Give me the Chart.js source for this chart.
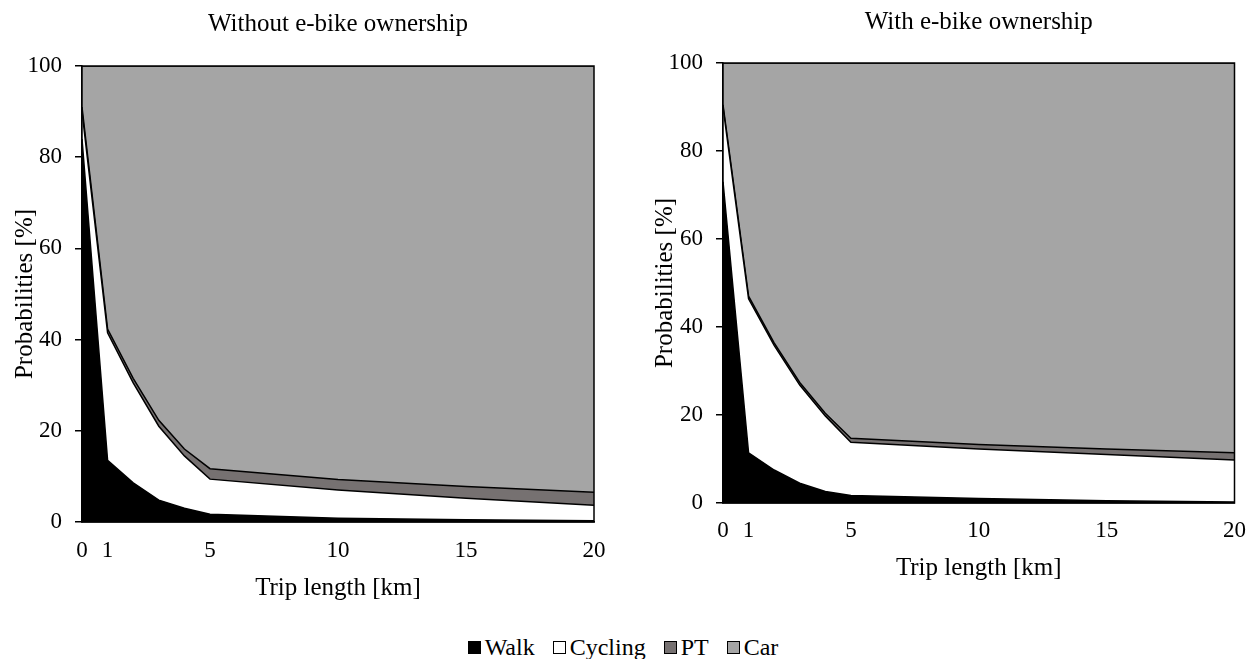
<!DOCTYPE html>
<html>
<head>
<meta charset="utf-8">
<script src="https://cdn.jsdelivr.net/npm/chart.js@4.4.1/dist/chart.umd.min.js"></script>
<style>
  body { margin: 0; background: #fff; width: 1260px; height: 659px; position: relative; overflow: hidden; font-family: "Liberation Serif", "Times New Roman", serif; }
  .box { position: absolute; top: 0; width: 630px; height: 610px; }
  #legend { position: absolute; top: 633px; left: 0; width: 1246px; display: flex; justify-content: center; gap: 18px; font-size: 24px; color: #000; line-height: 28px; }
  #legend span.item { display: flex; align-items: center; }
  #legend i { display: inline-block; width: 11px; height: 11px; border: 1px solid #000; margin-right: 4px; }
</style>
</head>
<body>
<div class="box" style="left:0"><canvas id="left" width="630" height="610"></canvas></div>
<div class="box" style="left:630px"><canvas id="right" width="630" height="610"></canvas></div>
<div id="legend"></div>

<script>
// trip length (km) at which the shares are given
const tripKm = [0, 1, 2, 3, 4, 5, 10, 15, 20];
const xTicks = [0, 1, 5, 10, 15, 20];
const yTicks = [0, 20, 40, 60, 80, 100];

const modes = ['Walk', 'Cycling', 'PT', 'Car'];
const modeColors = ['#000000', '#ffffff', '#767171', '#a5a5a5'];

// mode shares [%] without e-bike ownership
const walkNo    = [84, 13.5, 8.6, 4.8, 3.0, 1.7, 0.8, 0.5, 0.3];
const cyclingNo = [6, 28.0, 21.9, 16.2, 11.5, 7.7, 6.2, 4.7, 3.4];
const ptNo      = [1, 0.8, 1.0, 1.3, 1.5, 2.3, 2.3, 2.6, 2.8];
const carNo     = [9, 57.7, 68.5, 77.7, 84.0, 88.3, 90.7, 92.2, 93.5];

// mode shares [%] with e-bike ownership
const walkE    = [73, 11.4, 7.5, 4.5, 2.6, 1.7, 1.0, 0.5, 0.2];
const cyclingE = [17, 35.0, 28.3, 22.3, 17.2, 12.1, 11.3, 10.5, 9.6];
const ptE      = [0.5, 0.6, 0.6, 0.6, 0.6, 0.9, 1.0, 1.3, 1.6];
const carE     = [9.5, 53.0, 63.6, 72.6, 79.6, 85.3, 86.7, 87.7, 88.6];

const FONT = '"Liberation Serif", "Times New Roman", serif';

// frame round the plot area (Excel draws the area outline)
const framePlugin = {
  id: 'frame',
  afterDatasetsDraw(chart) {
    const a = chart.chartArea, ctx = chart.ctx;
    ctx.save();
    ctx.strokeStyle = '#000';
    ctx.lineWidth = 1.5;
    ctx.strokeRect(a.left, a.top, a.right - a.left, a.bottom - a.top);
    ctx.restore();
  }
};

function makeChart(id, title, series, g) {
  const ctx = document.getElementById(id).getContext('2d');
  return new Chart(ctx, {
    type: 'line',
    data: {
      datasets: series.map((vals, i) => ({
        label: modes[i],
        data: tripKm.map((x, j) => ({ x: x, y: vals[j] })),
        backgroundColor: modeColors[i],
        borderColor: '#000',
        borderWidth: 1.5,
        pointRadius: 0,
        tension: 0,
        fill: i === 0 ? 'origin' : '-1'
      }))
    },
    options: {
      responsive: false,
      animation: false,
      layout: { padding: { left: 0, right: g.padRight, top: 0, bottom: 0 } },
      plugins: {
        legend: { display: false },
        tooltip: { enabled: false },
        title: {
          display: true,
          text: title,
          fullSize: false,
          color: '#000',
          font: { family: FONT, size: 25, weight: 'normal' },
          padding: { top: g.titleTop, bottom: g.titleBottom }
        }
      },
      scales: {
        x: {
          type: 'linear',
          min: 0,
          max: 20,
          afterBuildTicks: s => { s.ticks = xTicks.map(v => ({ value: v })); },
          afterFit: s => { s.height = g.xHeight; },
          grid: { display: false, drawTicks: false },
          border: { display: true, color: '#000', width: 1.5 },
          ticks: { color: '#000', padding: g.xTickPad, maxRotation: 0, autoSkip: false,
                   font: { family: FONT, size: 23 } },
          title: { display: true, text: 'Trip length [km]', color: '#000',
                   font: { family: FONT, size: 25 }, padding: { top: 0, bottom: g.xTitlePad } }
        },
        y: {
          stacked: true,
          min: 0,
          max: 100,
          afterBuildTicks: s => { s.ticks = yTicks.map(v => ({ value: v })); },
          afterFit: s => { s.width = g.yWidth; },
          grid: { display: true, drawOnChartArea: false, drawTicks: true, tickLength: 7,
                  color: '#000', lineWidth: 1.5 },
          border: { display: true, color: '#000', width: 1.5 },
          ticks: { color: '#000', padding: 13, font: { family: FONT, size: 23 } },
          title: { display: true, text: 'Probabilities [%]', color: '#000',
                   font: { family: FONT, size: 25 }, padding: { top: g.yTitlePad, bottom: 0 } }
        }
      }
    },
    plugins: [framePlugin]
  });
}

makeChart('left', 'Without e-bike ownership', [walkNo, cyclingNo, ptNo, carNo], {
  padRight: 36, titleTop: 9, titleBottom: 27, xHeight: 88, xTickPad: 15, xTitlePad: 7,
  yWidth: 82, yTitlePad: 10
});
makeChart('right', 'With e-bike ownership', [walkE, cyclingE, ptE, carE], {
  padRight: 23, titleTop: 7, titleBottom: 26, xHeight: 107, xTickPad: 14, xTitlePad: 27,
  yWidth: 93, yTitlePad: 20
});

// shared legend below both panels
const legend = document.getElementById('legend');
modes.forEach((m, i) => {
  const item = document.createElement('span');
  item.className = 'item';
  const sw = document.createElement('i');
  sw.style.background = modeColors[i];
  item.appendChild(sw);
  item.appendChild(document.createTextNode(m));
  legend.appendChild(item);
});
</script>
</body>
</html>
